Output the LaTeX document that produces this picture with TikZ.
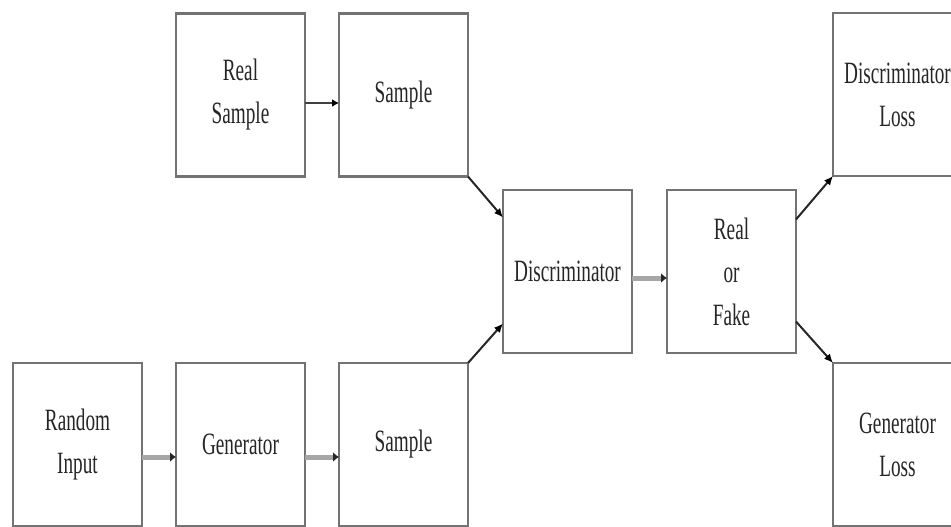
\documentclass[tikz,border=0pt]{standalone}
\usepackage{fontspec}
\newfontfamily\condfont[FakeStretch=0.62]{Liberation Serif}
\usetikzlibrary{arrows.meta}
\tikzset{
  box/.style={draw=black!55, line width=2.5pt, minimum width=129pt, minimum height=163pt,
    inner sep=0pt, outer sep=0pt, align=center, text=black!85,
    font=\condfont\fontsize{31}{43}\selectfont},
  darkarrow/.style={draw=black!75, line width=2.6pt, -{Latex[length=7pt,width=8pt,color=black]}},
  grayarrow/.style={draw=black!35, line width=5pt, -{Latex[length=6pt,width=10pt,color=black!85]}},
  diagarrow/.style={draw=black!85, line width=2pt, -{Latex[length=9pt,width=8pt,color=black]}}
}
\begin{document}
\begin{tikzpicture}[x=1pt,y=-1pt]
\useasboundingbox (0,0) rectangle (951,527);
\clip (0,0) rectangle (951,527);
\fill[white] (0,0) rectangle (951,527);
\node[box] (rs) at (240.5,95) {Real\\Sample};
\node[box] (s1) at (403.5,95) {Sample};
\node[box] (d)  at (567.5,271.5) {Discriminator};
\node[box] (rf) at (731.5,271.5) {Real\\or\\Fake};
\node[box] (dl) at (897.5,94.5) {Discriminator\\Loss};
\node[box] (gl) at (897.5,444.5) {Generator\\Loss};
\node[box] (ri) at (77.5,444.5) {Random\\Input};
\node[box] (g)  at (240.5,444.5) {Generator};
\node[box] (s2) at (403.5,444.5) {Sample};
\draw[darkarrow] ([yshift=-8pt]rs.east) -- ([yshift=-8pt]s1.west);
\draw[grayarrow] ([yshift=-12.5pt]ri.east) -- ([yshift=-12.5pt]g.west);
\draw[grayarrow] ([yshift=-12.5pt]g.east) -- ([yshift=-12.5pt]s2.west);
\draw[grayarrow] ([yshift=-6.5pt]d.east) -- ([yshift=-6.5pt]rf.west);
\draw[diagarrow] (s1.south east) -- ([yshift=54pt]d.west);
\draw[diagarrow] (s2.north east) -- ([yshift=-52pt]d.west);
\draw[diagarrow] ([yshift=52pt]rf.east) -- (dl.south west);
\draw[diagarrow] ([yshift=-50pt]rf.east) -- (gl.north west);
\end{tikzpicture}
\end{document}
